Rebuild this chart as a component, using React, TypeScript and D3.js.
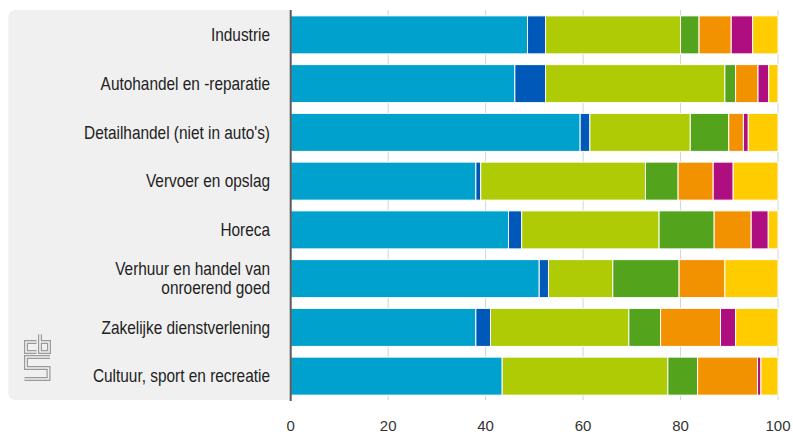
import React from "react";
import * as d3 from "d3";

const categories: string[][] = [
  ["Industrie"],
  ["Autohandel en -reparatie"],
  ["Detailhandel (niet in auto's)"],
  ["Vervoer en opslag"],
  ["Horeca"],
  ["Verhuur en handel van", "onroerend goed"],
  ["Zakelijke dienstverlening"],
  ["Cultuur, sport en recreatie"],
];

const seriesKeys = ["s1", "s2", "s3", "s4", "s5", "s6", "s7"];
const seriesColors = ["#00a1cd", "#0058b8", "#afcb05", "#53a31d", "#f39200", "#af0e80", "#ffcc00"];

const s1 = [48.6, 46.0, 59.4, 38.0, 44.7, 51.0, 38.0, 43.4];
const s2 = [3.7, 6.3, 2.0, 1.0, 2.7, 1.9, 3.0, 0];
const s3 = [27.7, 36.8, 20.6, 33.8, 28.2, 13.2, 28.4, 34.0];
const s4 = [3.8, 2.2, 7.9, 6.7, 11.3, 13.6, 6.5, 6.1];
const s5 = [6.6, 4.6, 3.0, 7.2, 7.6, 9.4, 12.3, 12.3];
const s6 = [4.4, 2.2, 1.0, 4.1, 3.5, 0, 3.1, 0.7];
const s7 = [5.2, 1.9, 6.1, 9.2, 2.0, 10.9, 8.7, 3.5];

const xTicks = [0, 20, 40, 60, 80, 100];

const W = 793;
const H = 432;

export default function App() {
  const allSeries = [s1, s2, s3, s4, s5, s6, s7];
  const rows = categories.map((c, i) => {
    const r: any = { key: String(i) };
    seriesKeys.forEach((k, j) => (r[k] = allSeries[j][i]));
    return r;
  });
  const stacked = d3.stack().keys(seriesKeys)(rows);

  const x = d3.scaleLinear().domain([0, 100]).range([290.7, 778]);
  const y = d3
    .scaleBand<string>()
    .domain(rows.map((r) => r.key))
    .range([10, 401])
    .paddingInner(0.22)
    .paddingOuter(0.12);

  const font = "'Liberation Sans', Arial, sans-serif";
  const labelRight = 270;

  return (
    <svg
      width={W}
      height={H}
      style={{ position: "absolute", left: 0, top: 0, background: "#fff" }}
    >
      {/* grey label panel */}
      <rect x={8.3} y={10} width={290} height={390} rx={7} fill="#f0f0f0" />
      <rect x={290.7} y={10} width={20} height={390} fill="#fff" />

      {/* grid lines */}
      {xTicks.slice(1).map((t) => (
        <line
          key={t}
          x1={x(t)}
          x2={x(t)}
          y1={10}
          y2={400}
          stroke="#d4d4d4"
          strokeWidth={1}
        />
      ))}

      {/* bars */}
      {stacked.map((layer, li) => (
        <g key={layer.key} fill={seriesColors[li]}>
          {layer.map((d, i) => {
            const w = x(d[1]) - x(d[0]);
            if (w <= 0) return null;
            return (
              <rect
                key={i}
                x={x(d[0])}
                y={y(String(i))}
                width={w}
                height={y.bandwidth()}
                stroke="#ffffff"
                strokeWidth={1}
              />
            );
          })}
        </g>
      ))}

      {/* axis line */}
      <line x1={290.7} x2={290.7} y1={10} y2={401} stroke="#5a5a5a" strokeWidth={2} />

      {/* category labels */}
      {categories.map((lines, i) => {
        const cy = (y(String(i)) as number) + y.bandwidth() / 2;
        const lh = 19;
        const start = cy - ((lines.length - 1) * lh) / 2 + 6.3;
        return (
          <g key={i} transform={`translate(${labelRight},0) scale(0.88,1)`}>
            {lines.map((ln, k) => (
              <text
                key={k}
                x={0}
                y={start + k * lh}
                textAnchor="end"
                fontFamily={font}
                fontSize={17.5}
                fill="#222"
              >
                {ln}
              </text>
            ))}
          </g>
        );
      })}

      {/* tick labels */}
      {xTicks.map((t) => (
        <text
          key={t}
          x={x(t)}
          y={430.5}
          textAnchor="middle"
          fontFamily={font}
          fontSize={15}
          fill="#333"
        >
          {t}
        </text>
      ))}

      {/* CBS logo */}
      <g transform="translate(24.5,334.5)" fill="none" strokeLinejoin="miter" strokeLinecap="butt">
        {["#9a9a9a", "#f0f0f0"].map((c, k) => (
          <g key={k} stroke={c} strokeWidth={k === 0 ? 4 : 1.6}>
            <path d="M12,7.5 H1.5 V17.5 H12" />
            <path d="M15.5,0 V17.5 H24.5 V7.5 H15.5" />
            <path d="M25.5,22.5 H1.5 V33.5 H24 V44.5 H0" />
          </g>
        ))}
      </g>
    </svg>
  );
}
